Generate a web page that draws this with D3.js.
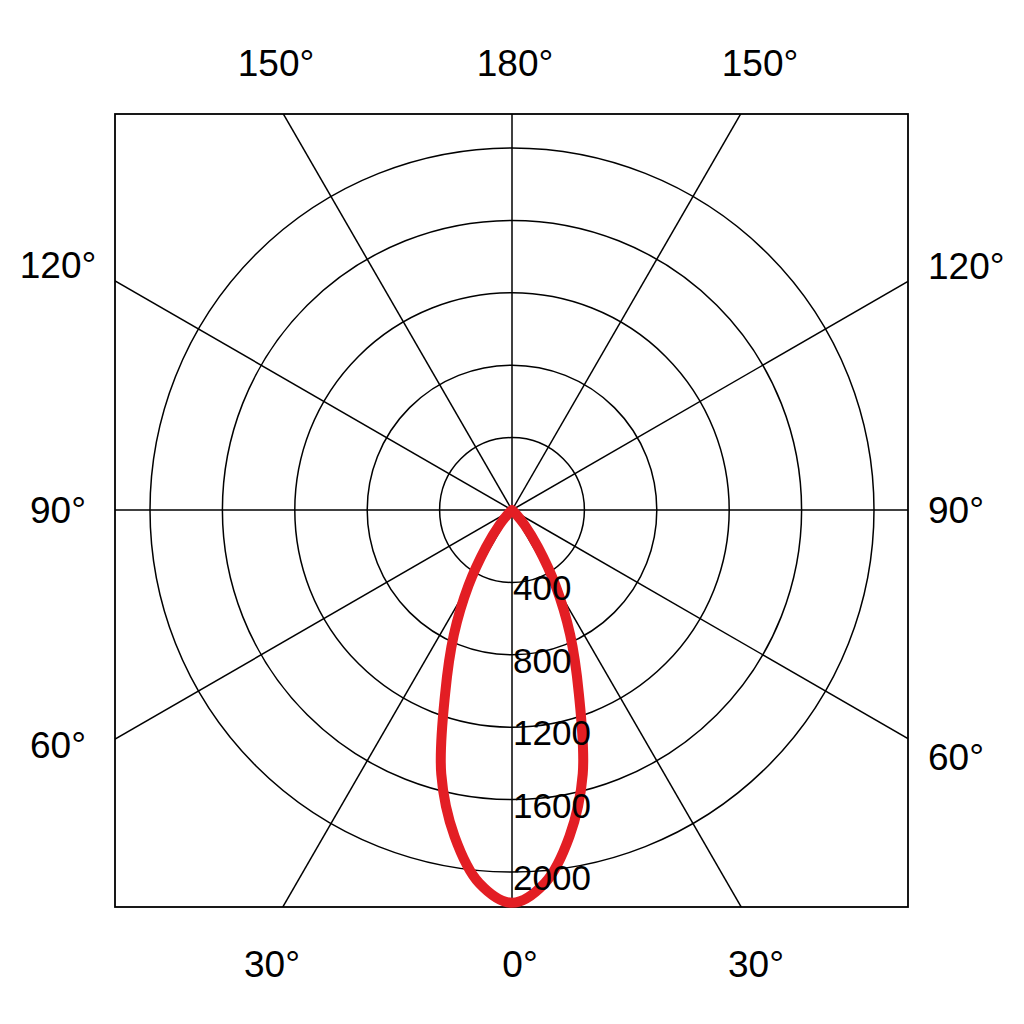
<!DOCTYPE html>
<html>
<head>
<meta charset="utf-8">
<script src="https://cdn.jsdelivr.net/npm/d3@7"></script>
<style>
  html, body { margin: 0; padding: 0; background: #fff; }
  svg { display: block; }
  text { font-family: "Liberation Sans", Arial, sans-serif; fill: #000; }
</style>
</head>
<body>
<svg id="chart" width="1024" height="1024"></svg>
<script>
// ---- data ----
const ringValues = [400, 800, 1200, 1600, 2000];
const spokeAngles = [0, 30, 60, 90, 120, 150, 180, 210, 240, 270, 300, 330];
// intensity (cd) per gamma angle (deg), symmetric C-plane
const gammaAngles = [0, 5, 10, 15, 20, 25, 30, 35, 40, 45, 50, 60, 90, 120, 150, 180];
const intensity   = [2170, 2070, 1830, 1510, 1080, 760, 480, 250, 110, 30, 0, 0, 0, 0, 0, 0];
const topLabels    = ["150°", "180°", "150°"];
const bottomLabels = ["30°", "0°", "30°"];
const sideLabels   = ["120°", "90°", "60°"];

// ---- layout ----
const svg = d3.select("#chart");
const frame = {x0: 115, y0: 114, x1: 908, y1: 907};
const cx = 512, cy = 510;
const r = d3.scaleLinear().domain([0, 2000]).range([0, 362]);

svg.append("defs").append("clipPath").attr("id", "frameClip")
  .append("rect").attr("x", frame.x0).attr("y", frame.y0)
  .attr("width", frame.x1 - frame.x0).attr("height", frame.y1 - frame.y0);

const g = svg.append("g").attr("clip-path", "url(#frameClip)");

// rings
g.selectAll("circle.ring").data(ringValues).join("circle")
  .attr("class", "ring")
  .attr("cx", cx).attr("cy", cy).attr("r", d => r(d))
  .attr("fill", "none").attr("stroke", "#000").attr("stroke-width", 1.5);

// spokes (angle 0 = down)
g.selectAll("line.spoke").data(spokeAngles).join("line")
  .attr("class", "spoke")
  .attr("x1", cx).attr("y1", cy)
  .attr("x2", d => cx + Math.sin(d * Math.PI / 180) * 1000)
  .attr("y2", d => cy + Math.cos(d * Math.PI / 180) * 1000)
  .attr("stroke", "#000").attr("stroke-width", 1.5);

// frame
svg.append("rect").attr("x", frame.x0).attr("y", frame.y0)
  .attr("width", frame.x1 - frame.x0).attr("height", frame.y1 - frame.y0)
  .attr("fill", "none").attr("stroke", "#000").attr("stroke-width", 1.8);

// curve
const pts = [];
for (let i = 0; i < gammaAngles.length; i++) pts.push([gammaAngles[i], intensity[i]]);
for (let i = gammaAngles.length - 2; i > 0; i--) pts.push([360 - gammaAngles[i], intensity[i]]);
const line = d3.lineRadial()
  .angle(d => Math.PI - d[0] * Math.PI / 180)
  .radius(d => r(d[1]))
  .curve(d3.curveCatmullRomClosed.alpha(0.5));
svg.append("path")
  .attr("transform", `translate(${cx},${cy})`)
  .attr("d", line(pts))
  .attr("fill", "none").attr("stroke", "#e31e24").attr("stroke-width", 10)
  .attr("stroke-linejoin", "round");

// ring labels
svg.selectAll("text.rl").data(ringValues).join("text")
  .attr("class", "rl")
  .attr("x", cx + 1).attr("y", d => cy + r(d) + 18)
  .attr("font-size", 35)
  .text(d => d);

// angle labels
const fs = 37;
const topX = [276, 515, 760];
svg.selectAll("text.top").data(topLabels).join("text")
  .attr("class", "top").attr("x", (d, i) => topX[i]).attr("y", 76)
  .attr("text-anchor", "middle").attr("font-size", fs).text(d => d);
const botX = [272, 520, 756];
svg.selectAll("text.bot").data(bottomLabels).join("text")
  .attr("class", "bot").attr("x", (d, i) => botX[i]).attr("y", 977)
  .attr("text-anchor", "middle").attr("font-size", fs).text(d => d);
const leftY = [278, 523, 758];
svg.selectAll("text.left").data(sideLabels).join("text")
  .attr("class", "left").attr("x", 58).attr("y", (d, i) => leftY[i])
  .attr("text-anchor", "middle").attr("font-size", fs).text(d => d);
const rightY = [279, 523, 770];
svg.selectAll("text.right").data(sideLabels).join("text")
  .attr("class", "right").attr("x", 928).attr("y", (d, i) => rightY[i])
  .attr("text-anchor", "start").attr("font-size", fs).text(d => d);
</script>
</body>
</html>
